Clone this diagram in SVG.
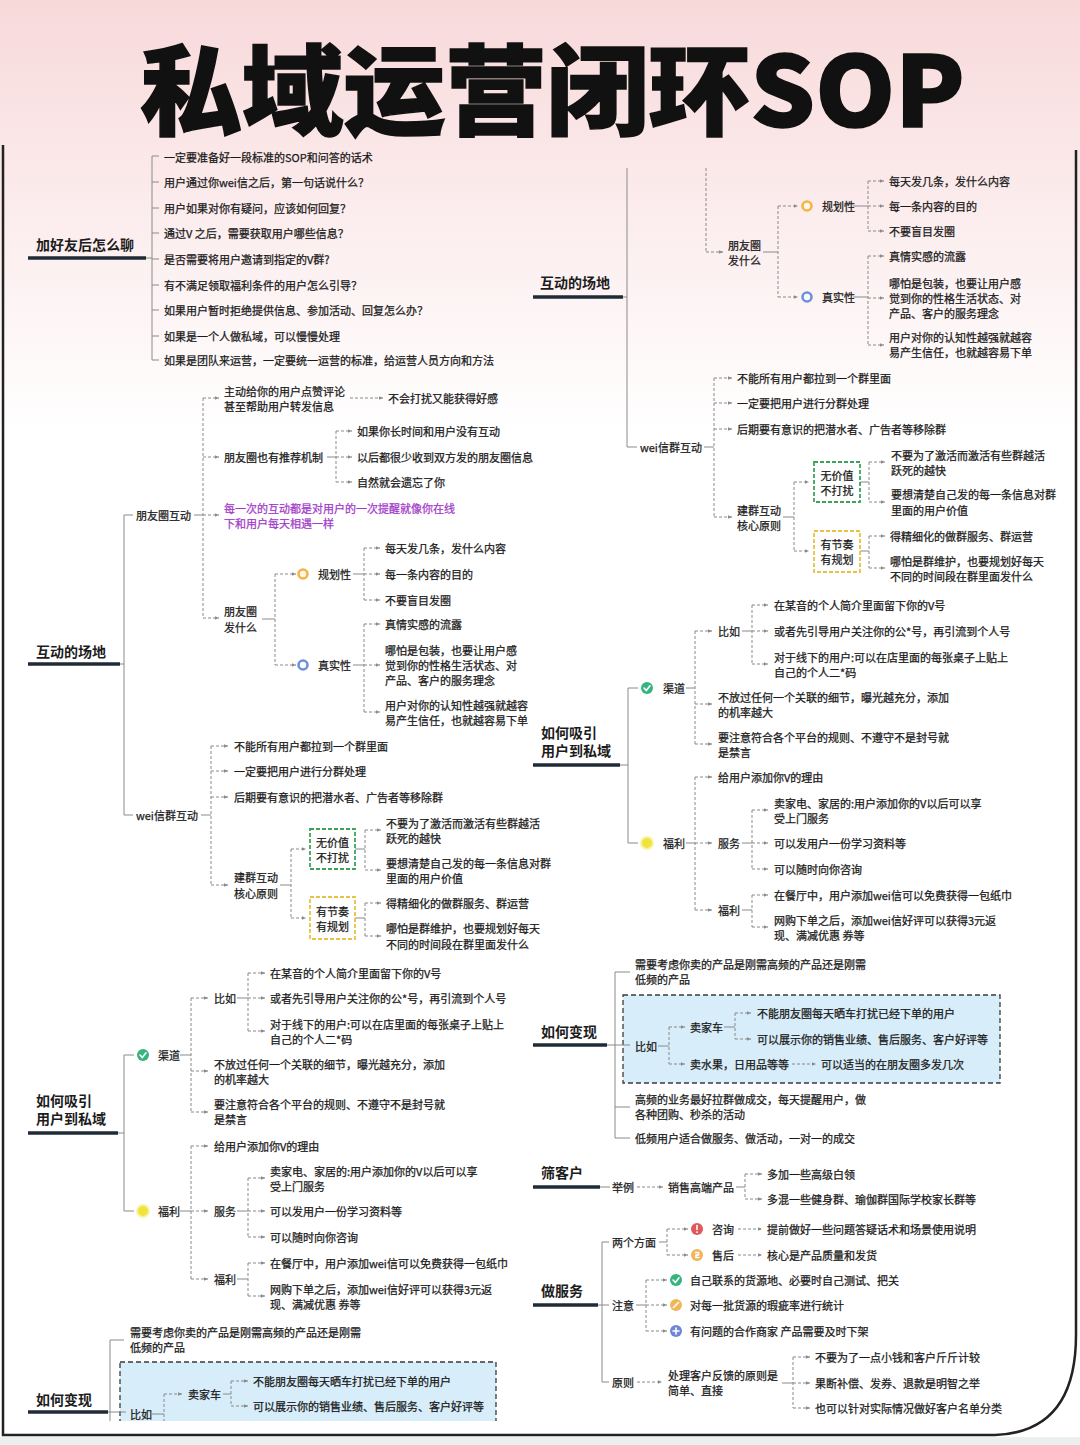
<svg xmlns="http://www.w3.org/2000/svg" width="1080" height="1445" viewBox="0 0 1080 1445">
<defs>
<linearGradient id="bg" x1="0" y1="0" x2="0" y2="1">
<stop offset="0" stop-color="#f8d9da"/>
<stop offset="0.12" stop-color="#fbe9ea"/>
<stop offset="0.3" stop-color="#ffffff"/>
<stop offset="1" stop-color="#ffffff"/>
</linearGradient>
<marker id="ah" viewBox="0 0 6 6" refX="6" refY="3" markerWidth="4" markerHeight="4" orient="auto" markerUnits="userSpaceOnUse"><path d="M0,0.5L6,3L0,5.5Z" fill="#8a8a8a"/></marker>
<clipPath id="clipL"><rect x="0" y="0" width="1080" height="1421"/></clipPath>
<style>
.t{font-family:"Noto Sans CJK SC","Noto Sans",sans-serif;font-size:11px;fill:#1a1a1a;stroke:#1a1a1a;stroke-width:0.25;dominant-baseline:central}
.h{font-family:"Noto Sans CJK SC","Noto Sans",sans-serif;font-size:14px;font-weight:bold;fill:#1c1c1c;dominant-baseline:central}
.p{fill:#a23bc9;stroke:#a23bc9}
.m{text-anchor:middle}
.c{stroke:#8a8a8a;stroke-width:1;fill:none}
.d{stroke:#8a8a8a;stroke-width:1;fill:none;stroke-dasharray:3 2}
.a{marker-end:url(#ah)}
.ul{stroke:#1f2b36;stroke-width:3.5;fill:none}
.gb{fill:#ffffff;stroke:#3da35c;stroke-width:1.8;stroke-dasharray:4 2}
.yb{fill:#ffffff;stroke:#e8c244;stroke-width:1.8;stroke-dasharray:4 2}
.bb{fill:#d7edf9;stroke:#3a3a3a;stroke-width:1.3;stroke-dasharray:5 3}
.ro{fill:#fff7e6;stroke:#f2b546;stroke-width:2.6}
.rb{fill:#ffffff;stroke:#6e90dc;stroke-width:2.6}
.wl{stroke:#fff;stroke-width:1.6;fill:none;stroke-linecap:round}
</style>
</defs>
<rect x="0" y="0" width="1080" height="1445" fill="url(#bg)"/>
<rect x="0" y="1437" width="1080" height="8" fill="#eceff0"/>

<g id="frame">
<path d="M3,145V1435H995Q1076,1432 1076,1335V150" fill="none" stroke="#222" stroke-width="2.5"/>
</g>

<g id="title">
<text x="140" y="127" font-family="'Noto Sans CJK SC','Noto Sans',sans-serif" font-size="98" font-weight="900" fill="#111" stroke="#111" stroke-width="1.5" textLength="825" lengthAdjust="spacingAndGlyphs">私域运营闭环SOP</text>
</g>

<g id="boxes">
<rect class="bb" x="623" y="995" width="377" height="88"/>
<rect class="bb" x="120" y="1362" width="376" height="75" clip-path="url(#clipL)"/>
</g>

<g id="connectors">
<path class="c" d="M146,258H152M152,156V360M152,156H159M152,182H159M152,208H159M152,233H159M152,259H159M152,285H159M152,310H159M152,336H159M152,360H159"/>
<path class="c" d="M120,664H124M124,515V815M124,515H133M124,815H133"/>
<path class="c" d="M194,515H203"/>
<path class="d" d="M203,398V618"/>
<path class="d a" d="M203,398H219"/><path class="d a" d="M203,457H219"/><path class="d a" d="M203,515H219"/><path class="d a" d="M203,618H219"/>
<path class="d a" d="M350,398H383"/>
<path class="c" d="M327,457H336"/><path class="d" d="M336,431V482"/>
<path class="d a" d="M336,431H352"/><path class="d a" d="M336,457H352"/><path class="d a" d="M336,482H352"/>
<path class="c" d="M262,619H275"/><path class="d" d="M275,574V665"/>
<path class="d a" d="M275,574H296"/><path class="d a" d="M275,665H296"/>
<path class="c" d="M353,574H364"/><path class="d" d="M364,548V600"/>
<path class="d a" d="M364,548H380"/><path class="d a" d="M364,574H380"/><path class="d a" d="M364,600H380"/>
<path class="c" d="M353,665H364"/><path class="d" d="M364,624V712"/>
<path class="d a" d="M364,624H380"/><path class="d a" d="M364,665H380"/><path class="d a" d="M364,712H380"/>
<path class="c" d="M201,815H211"/><path class="d" d="M211,746V885"/>
<path class="d a" d="M211,746H228"/><path class="d a" d="M211,771H228"/><path class="d a" d="M211,797H228"/><path class="d a" d="M211,885H228"/>
<path class="c" d="M280,885H291"/><path class="d" d="M291,849V918"/>
<path class="d a" d="M291,849H306"/><path class="d a" d="M291,918H306"/>
<path class="c" d="M355,849H365"/><path class="d" d="M365,830V870"/>
<path class="d a" d="M365,830H381"/><path class="d a" d="M365,870H381"/>
<path class="c" d="M355,918H365"/><path class="d" d="M365,903V936"/>
<path class="d a" d="M365,903H381"/><path class="d a" d="M365,936H381"/>

<path class="c" d="M118,1133H124M124,1055V1211M124,1055H134M124,1211H134"/>
<path class="c" d="M180,1055H191"/><path class="d" d="M191,998V1112"/>
<path class="d a" d="M191,998H208"/><path class="d a" d="M191,1071H208"/><path class="d a" d="M191,1112H208"/>
<path class="c" d="M237,998H248"/><path class="d" d="M248,973V1031"/>
<path class="d a" d="M248,973H265"/><path class="d a" d="M248,998H265"/><path class="d a" d="M248,1031H265"/>
<path class="c" d="M180,1211H191"/><path class="d" d="M191,1146V1279"/>
<path class="d a" d="M191,1146H208"/><path class="d a" d="M191,1211H208"/><path class="d a" d="M191,1279H208"/>
<path class="c" d="M237,1211H248"/><path class="d" d="M248,1178V1237"/>
<path class="d a" d="M248,1178H265"/><path class="d a" d="M248,1211H265"/><path class="d a" d="M248,1237H265"/>
<path class="c" d="M237,1279H248"/><path class="d" d="M248,1263V1296"/>
<path class="d a" d="M248,1263H265"/><path class="d a" d="M248,1296H265"/>

<g clip-path="url(#clipL)">
<path class="c" d="M108,1412H126M110,1340V1430M110,1340H124"/>
<path class="c" d="M152,1414H164"/><path class="d" d="M164,1394V1430"/>
<path class="d a" d="M164,1394H182"/>
<path class="c" d="M223,1394H231"/><path class="d" d="M231,1381V1406"/>
<path class="d a" d="M231,1381H248"/><path class="d a" d="M231,1406H248"/>
</g>

<path class="c" d="M623,297H627M627,168V447M627,447H637"/>
<path class="d" d="M706,168V252"/><path class="d a" d="M706,252H723"/>
<path class="c" d="M763,252H778"/><path class="d" d="M778,206V297"/>
<path class="d a" d="M778,206H798"/><path class="d a" d="M778,297H798"/>
<path class="c" d="M853,206H868"/><path class="d" d="M868,181V231"/>
<path class="d a" d="M868,181H884"/><path class="d a" d="M868,206H884"/><path class="d a" d="M868,231H884"/>
<path class="c" d="M853,297H868"/><path class="d" d="M868,256V345"/>
<path class="d a" d="M868,256H884"/><path class="d a" d="M868,298H884"/><path class="d a" d="M868,345H884"/>
<path class="c" d="M704,447H714"/><path class="d" d="M714,378V517"/>
<path class="d a" d="M714,378H732"/><path class="d a" d="M714,403H732"/><path class="d a" d="M714,429H732"/><path class="d a" d="M714,517H732"/>
<path class="c" d="M783,517H794"/><path class="d" d="M794,482V551"/>
<path class="d a" d="M794,482H809"/><path class="d a" d="M794,551H809"/>
<path class="c" d="M860,482H869"/><path class="d" d="M869,462V502"/>
<path class="d a" d="M869,462H885"/><path class="d a" d="M869,502H885"/>
<path class="c" d="M860,551H869"/><path class="d" d="M869,536V568"/>
<path class="d a" d="M869,536H885"/><path class="d a" d="M869,568H885"/>

<path class="c" d="M620,765H628M628,688V843M628,688H638M628,843H638"/>
<path class="c" d="M686,688H695"/><path class="d" d="M695,631V744"/>
<path class="d a" d="M695,631H712"/><path class="d a" d="M695,704H712"/><path class="d a" d="M695,744H712"/>
<path class="c" d="M742,631H752"/><path class="d" d="M752,605V664"/>
<path class="d a" d="M752,605H768"/><path class="d a" d="M752,631H768"/><path class="d a" d="M752,664H768"/>
<path class="c" d="M686,843H695"/><path class="d" d="M695,777V910"/>
<path class="d a" d="M695,777H712"/><path class="d a" d="M695,843H712"/><path class="d a" d="M695,910H712"/>
<path class="c" d="M742,843H752"/><path class="d" d="M752,810V869"/>
<path class="d a" d="M752,810H768"/><path class="d a" d="M752,843H768"/><path class="d a" d="M752,869H768"/>
<path class="c" d="M742,910H752"/><path class="d" d="M752,895V927"/>
<path class="d a" d="M752,895H768"/><path class="d a" d="M752,927H768"/>

<path class="c" d="M607,1045H630M615,972V1138M615,972H630M615,1107H630M615,1138H630"/>
<path class="c" d="M658,1046H669"/><path class="d" d="M669,1027V1064"/>
<path class="d a" d="M669,1027H685"/><path class="d a" d="M669,1064H685"/>
<path class="c" d="M724,1027H735"/><path class="d" d="M735,1013V1039"/>
<path class="d a" d="M735,1013H751"/><path class="d a" d="M735,1039H751"/>
<path class="d a" d="M792,1064H816"/>

<path class="c" d="M600,1187H610"/>
<path class="d a" d="M637,1187H663"/>
<path class="c" d="M736,1187H745"/><path class="d" d="M745,1174V1199"/>
<path class="d a" d="M745,1174H762"/><path class="d a" d="M745,1199H762"/>

<path class="c" d="M598,1305H609M602,1242V1382M602,1242H609M602,1382H609"/>
<path class="c" d="M659,1242H667"/><path class="d" d="M667,1229V1255"/>
<path class="d a" d="M667,1229H688"/><path class="d a" d="M667,1255H688"/>
<path class="d a" d="M738,1229H762"/><path class="d a" d="M738,1255H762"/>
<path class="c" d="M636,1305H646"/><path class="d" d="M646,1280V1331"/>
<path class="d a" d="M646,1280H667"/><path class="d a" d="M646,1305H667"/><path class="d a" d="M646,1331H667"/>
<path class="d a" d="M637,1382H662"/>
<path class="c" d="M782,1383H793"/><path class="d" d="M793,1357V1408"/>
<path class="d a" d="M793,1357H810"/><path class="d a" d="M793,1383H810"/><path class="d a" d="M793,1408H810"/>
</g>

<!-- LEFT: 加好友后怎么聊 -->
<g id="L-h1"><text class="h" x="36" y="244">加好友后怎么聊</text><path class="ul" d="M28,258H146"/></g>
<g id="L-a1"><text class="t" x="164" y="157">一定要准备好一段标准的SOP和问答的话术</text></g>
<g id="L-a2"><text class="t" x="164" y="182">用户通过你wei信之后，第一句话说什么？</text></g>
<g id="L-a3"><text class="t" x="164" y="208">用户如果对你有疑问，应该如何回复？</text></g>
<g id="L-a4"><text class="t" x="164" y="233">通过V 之后，需要获取用户哪些信息？</text></g>
<g id="L-a5"><text class="t" x="164" y="259">是否需要将用户邀请到指定的V群?</text></g>
<g id="L-a6"><text class="t" x="164" y="285">有不满足领取福利条件的用户怎么引导？</text></g>
<g id="L-a7"><text class="t" x="164" y="310">如果用户暂时拒绝提供信息、参加活动、回复怎么办？</text></g>
<g id="L-a8"><text class="t" x="164" y="336">如果是一个人做私域，可以慢慢处理</text></g>
<g id="L-a9"><text class="t" x="164" y="360">如果是团队来运营，一定要统一运营的标准，给运营人员方向和方法</text></g>

<!-- LEFT: 互动的场地 -->
<g id="L-h2"><text class="h" x="36" y="651">互动的场地</text><path class="ul" d="M28,664H120"/></g>
<g id="L-b1"><text class="t" x="136" y="515">朋友圈互动</text></g>
<g id="L-b2"><text class="t" x="224" y="391">主动给你的用户点赞评论<tspan x="224" dy="15">甚至帮助用户转发信息</tspan></text></g>
<g id="L-b3"><text class="t" x="388" y="398">不会打扰又能获得好感</text></g>
<g id="L-b4"><text class="t" x="224" y="457">朋友圈也有推荐机制</text></g>
<g id="L-b5"><text class="t" x="357" y="431">如果你长时间和用户没有互动</text></g>
<g id="L-b6"><text class="t" x="357" y="457">以后都很少收到双方发的朋友圈信息</text></g>
<g id="L-b7"><text class="t" x="357" y="482">自然就会遗忘了你</text></g>
<g id="L-b8"><text class="t p" x="224" y="508">每一次的互动都是对用户的一次提醒就像你在线<tspan x="224" dy="15">下和用户每天相遇一样</tspan></text></g>
<g id="L-b9"><text class="t" x="224" y="611">朋友圈<tspan x="224" dy="16">发什么</tspan></text></g>
<g id="L-b10"><circle class="ro" cx="303" cy="574" r="4.5"/><text class="t" x="318" y="574">规划性</text></g>
<g id="L-b11"><text class="t" x="385" y="548">每天发几条，发什么内容</text></g>
<g id="L-b12"><text class="t" x="385" y="574">每一条内容的目的</text></g>
<g id="L-b13"><text class="t" x="385" y="600">不要盲目发圈</text></g>
<g id="L-b14"><circle class="rb" cx="303" cy="665" r="4.5"/><text class="t" x="318" y="665">真实性</text></g>
<g id="L-b15"><text class="t" x="385" y="624">真情实感的流露</text></g>
<g id="L-b16"><text class="t" x="385" y="650">哪怕是包装，也要让用户感<tspan x="385" dy="15">觉到你的性格生活状态、对</tspan><tspan x="385" dy="15">产品、客户的服务理念</tspan></text></g>
<g id="L-b17"><text class="t" x="385" y="705">用户对你的认知性越强就越容<tspan x="385" dy="15">易产生信任，也就越容易下单</tspan></text></g>
<g id="L-c1"><text class="t" x="136" y="815">wei信群互动</text></g>
<g id="L-c2"><text class="t" x="234" y="746">不能所有用户都拉到一个群里面</text></g>
<g id="L-c3"><text class="t" x="234" y="771">一定要把用户进行分群处理</text></g>
<g id="L-c4"><text class="t" x="234" y="797">后期要有意识的把潜水者、广告者等移除群</text></g>
<g id="L-c5"><text class="t" x="234" y="877">建群互动<tspan x="234" dy="16">核心原则</tspan></text></g>
<g id="L-c6"><rect class="gb" x="310" y="829" width="45" height="40"/><text class="t m" x="332.5" y="842">无价值<tspan x="332.5" dy="15">不打扰</tspan></text></g>
<g id="L-c7"><text class="t" x="386" y="823">不要为了激活而激活有些群越活<tspan x="386" dy="15">跃死的越快</tspan></text></g>
<g id="L-c8"><text class="t" x="386" y="863">要想清楚自己发的每一条信息对群<tspan x="386" dy="15">里面的用户价值</tspan></text></g>
<g id="L-c9"><rect class="yb" x="310" y="897" width="45" height="42"/><text class="t m" x="332.5" y="911">有节奏<tspan x="332.5" dy="15">有规划</tspan></text></g>
<g id="L-c10"><text class="t" x="386" y="903">得精细化的做群服务、群运营</text></g>
<g id="L-c11"><text class="t" x="386" y="928">哪怕是群维护，也要规划好每天<tspan x="386" dy="16">不同的时间段在群里面发什么</tspan></text></g>

<!-- LEFT: 如何吸引用户到私域 -->
<g id="L-h3"><text class="h" x="36" y="1100">如何吸引<tspan x="36" dy="18">用户到私域</tspan></text><path class="ul" d="M28,1133H118"/></g>
<g id="L-d1"><circle cx="143" cy="1055" r="6" fill="#36b37e"/><path class="wl" d="M140,1055L142.3,1057.5L146,1052.8"/><text class="t" x="158" y="1055">渠道</text></g>
<g id="L-d2"><text class="t" x="214" y="998">比如</text></g>
<g id="L-d3"><text class="t" x="270" y="973">在某音的个人简介里面留下你的V号</text></g>
<g id="L-d4"><text class="t" x="270" y="998">或者先引导用户关注你的公*号，再引流到个人号</text></g>
<g id="L-d5"><text class="t" x="270" y="1024">对于线下的用户:可以在店里面的每张桌子上贴上<tspan x="270" dy="15">自己的个人二*码</tspan></text></g>
<g id="L-d6"><text class="t" x="214" y="1064">不放过任何一个关联的细节，曝光越充分，添加<tspan x="214" dy="15">的机率越大</tspan></text></g>
<g id="L-d7"><text class="t" x="214" y="1104">要注意符合各个平台的规则、不遵守不是封号就<tspan x="214" dy="15">是禁言</tspan></text></g>
<g id="L-d8"><circle cx="143" cy="1211" r="6" fill="#efe33c" stroke="#f8f3a8" stroke-width="2"/><text class="t" x="158" y="1211">福利</text></g>
<g id="L-d9"><text class="t" x="214" y="1146">给用户添加你V的理由</text></g>
<g id="L-d10"><text class="t" x="214" y="1211">服务</text></g>
<g id="L-d11"><text class="t" x="270" y="1171">卖家电、家居的:用户添加你的V以后可以享<tspan x="270" dy="15">受上门服务</tspan></text></g>
<g id="L-d12"><text class="t" x="270" y="1211">可以发用户一份学习资料等</text></g>
<g id="L-d13"><text class="t" x="270" y="1237">可以随时向你咨询</text></g>
<g id="L-d14"><text class="t" x="214" y="1279">福利</text></g>
<g id="L-d15"><text class="t" x="270" y="1263">在餐厅中，用户添加wei信可以免费获得一包纸巾</text></g>
<g id="L-d16"><text class="t" x="270" y="1289">网购下单之后，添加wei信好评可以获得3元返<tspan x="270" dy="15">现、满减优惠 券等</tspan></text></g>

<!-- LEFT: 如何变现 -->
<g id="L-h4"><text class="h" x="36" y="1399">如何变现</text><path class="ul" d="M28,1412H108"/></g>
<g id="L-e1"><text class="t" x="130" y="1332">需要考虑你卖的产品是刚需高频的产品还是刚需<tspan x="130" dy="15">低频的产品</tspan></text></g>
<g id="L-e2" clip-path="url(#clipL)"><text class="t" x="130" y="1414">比如</text></g>
<g id="L-e3"><text class="t" x="188" y="1394">卖家车</text></g>
<g id="L-e4"><text class="t" x="253" y="1381">不能朋友圈每天晒车打扰已经下单的用户</text></g>
<g id="L-e5" clip-path="url(#clipL)"><text class="t" x="253" y="1406">可以展示你的销售业绩、售后服务、客户好评等</text></g>

<!-- RIGHT: 互动的场地 -->
<g id="R-h1"><text class="h" x="540" y="282">互动的场地</text><path class="ul" d="M533,297H623"/></g>
<g id="R-a1"><text class="t" x="728" y="245">朋友圈<tspan x="728" dy="15">发什么</tspan></text></g>
<g id="R-a2"><circle class="ro" cx="807" cy="206" r="4.5"/><text class="t" x="822" y="206">规划性</text></g>
<g id="R-a3"><text class="t" x="889" y="181">每天发几条，发什么内容</text></g>
<g id="R-a4"><text class="t" x="889" y="206">每一条内容的目的</text></g>
<g id="R-a5"><text class="t" x="889" y="231">不要盲目发圈</text></g>
<g id="R-a6"><circle class="rb" cx="807" cy="297" r="4.5"/><text class="t" x="822" y="297">真实性</text></g>
<g id="R-a7"><text class="t" x="889" y="256">真情实感的流露</text></g>
<g id="R-a8"><text class="t" x="889" y="283">哪怕是包装，也要让用户感<tspan x="889" dy="15">觉到你的性格生活状态、对</tspan><tspan x="889" dy="15">产品、客户的服务理念</tspan></text></g>
<g id="R-a9"><text class="t" x="889" y="337">用户对你的认知性越强就越容<tspan x="889" dy="15">易产生信任，也就越容易下单</tspan></text></g>
<g id="R-b1"><text class="t" x="640" y="447">wei信群互动</text></g>
<g id="R-b2"><text class="t" x="737" y="378">不能所有用户都拉到一个群里面</text></g>
<g id="R-b3"><text class="t" x="737" y="403">一定要把用户进行分群处理</text></g>
<g id="R-b4"><text class="t" x="737" y="429">后期要有意识的把潜水者、广告者等移除群</text></g>
<g id="R-b5"><text class="t" x="737" y="510">建群互动<tspan x="737" dy="15">核心原则</tspan></text></g>
<g id="R-b6"><rect class="gb" x="814" y="462" width="46" height="40"/><text class="t m" x="837" y="475">无价值<tspan x="837" dy="15">不打扰</tspan></text></g>
<g id="R-b7"><text class="t" x="891" y="455">不要为了激活而激活有些群越活<tspan x="891" dy="15">跃死的越快</tspan></text></g>
<g id="R-b8"><text class="t" x="891" y="494">要想清楚自己发的每一条信息对群<tspan x="891" dy="16">里面的用户价值</tspan></text></g>
<g id="R-b9"><rect class="yb" x="814" y="531" width="46" height="41"/><text class="t m" x="837" y="544">有节奏<tspan x="837" dy="15">有规划</tspan></text></g>
<g id="R-b10"><text class="t" x="890" y="536">得精细化的做群服务、群运营</text></g>
<g id="R-b11"><text class="t" x="890" y="561">哪怕是群维护，也要规划好每天<tspan x="890" dy="15">不同的时间段在群里面发什么</tspan></text></g>

<!-- RIGHT: 如何吸引用户到私域 -->
<g id="R-h2"><text class="h" x="541" y="732">如何吸引<tspan x="541" dy="18">用户到私域</tspan></text><path class="ul" d="M533,765H620"/></g>
<g id="R-c1"><circle cx="647" cy="688" r="6" fill="#36b37e"/><path class="wl" d="M644,688L646.3,690.5L650,685.8"/><text class="t" x="663" y="688">渠道</text></g>
<g id="R-c2"><text class="t" x="718" y="631">比如</text></g>
<g id="R-c3"><text class="t" x="774" y="605">在某音的个人简介里面留下你的V号</text></g>
<g id="R-c4"><text class="t" x="774" y="631">或者先引导用户关注你的公*号，再引流到个人号</text></g>
<g id="R-c5"><text class="t" x="774" y="657">对于线下的用户:可以在店里面的每张桌子上贴上<tspan x="774" dy="15">自己的个人二*码</tspan></text></g>
<g id="R-c6"><text class="t" x="718" y="697">不放过任何一个关联的细节，曝光越充分，添加<tspan x="718" dy="15">的机率越大</tspan></text></g>
<g id="R-c7"><text class="t" x="718" y="737">要注意符合各个平台的规则、不遵守不是封号就<tspan x="718" dy="15">是禁言</tspan></text></g>
<g id="R-c8"><circle cx="647" cy="843" r="6" fill="#efe33c" stroke="#f8f3a8" stroke-width="2"/><text class="t" x="663" y="843">福利</text></g>
<g id="R-c9"><text class="t" x="718" y="777">给用户添加你V的理由</text></g>
<g id="R-c10"><text class="t" x="718" y="843">服务</text></g>
<g id="R-c11"><text class="t" x="774" y="803">卖家电、家居的:用户添加你的V以后可以享<tspan x="774" dy="15">受上门服务</tspan></text></g>
<g id="R-c12"><text class="t" x="774" y="843">可以发用户一份学习资料等</text></g>
<g id="R-c13"><text class="t" x="774" y="869">可以随时向你咨询</text></g>
<g id="R-c14"><text class="t" x="718" y="910">福利</text></g>
<g id="R-c15"><text class="t" x="774" y="895">在餐厅中，用户添加wei信可以免费获得一包纸巾</text></g>
<g id="R-c16"><text class="t" x="774" y="920">网购下单之后，添加wei信好评可以获得3元返<tspan x="774" dy="15">现、满减优惠 券等</tspan></text></g>

<!-- RIGHT: 如何变现 -->
<g id="R-h3"><text class="h" x="541" y="1031">如何变现</text><path class="ul" d="M533,1045H607"/></g>
<g id="R-d1"><text class="t" x="635" y="964">需要考虑你卖的产品是刚需高频的产品还是刚需<tspan x="635" dy="15">低频的产品</tspan></text></g>
<g id="R-d2"><text class="t" x="635" y="1046">比如</text></g>
<g id="R-d3"><text class="t" x="690" y="1027">卖家车</text></g>
<g id="R-d4"><text class="t" x="757" y="1013">不能朋友圈每天晒车打扰已经下单的用户</text></g>
<g id="R-d5"><text class="t" x="757" y="1039">可以展示你的销售业绩、售后服务、客户好评等</text></g>
<g id="R-d6"><text class="t" x="690" y="1064">卖水果，日用品等等</text></g>
<g id="R-d7"><text class="t" x="821" y="1064">可以适当的在朋友圈多发几次</text></g>
<g id="R-d8"><text class="t" x="635" y="1099">高频的业务最好拉群做成交，每天提醒用户，做<tspan x="635" dy="15">各种团购、秒杀的活动</tspan></text></g>
<g id="R-d9"><text class="t" x="635" y="1138">低频用户适合做服务、做活动，一对一的成交</text></g>

<!-- RIGHT: 筛客户 -->
<g id="R-h4"><text class="h" x="541" y="1172">筛客户</text><path class="ul" d="M533,1187H600"/></g>
<g id="R-e1"><text class="t" x="612" y="1187">举例</text></g>
<g id="R-e2"><text class="t" x="668" y="1187">销售高端产品</text></g>
<g id="R-e3"><text class="t" x="767" y="1174">多加一些高级白领</text></g>
<g id="R-e4"><text class="t" x="767" y="1199">多混一些健身群、瑜伽群国际学校家长群等</text></g>

<!-- RIGHT: 做服务 -->
<g id="R-h5"><text class="h" x="541" y="1290">做服务</text><path class="ul" d="M533,1305H598"/></g>
<g id="R-f1"><text class="t" x="612" y="1242">两个方面</text></g>
<g id="R-f2"><circle cx="697" cy="1229" r="6" fill="#e05858"/><path class="wl" d="M697,1225.5V1229.5"/><circle cx="697" cy="1232.2" r="0.9" fill="#fff"/><text class="t" x="712" y="1229">咨询</text></g>
<g id="R-f3"><text class="t" x="767" y="1229">提前做好一些问题答疑话术和场景使用说明</text></g>
<g id="R-f4"><circle cx="697" cy="1255" r="6" fill="#f2b35a"/><path class="wl" d="M695.5,1252.5H698.5V1255H696V1257.5H699" stroke-width="1.1"/><text class="t" x="712" y="1255">售后</text></g>
<g id="R-f5"><text class="t" x="767" y="1255">核心是产品质量和发货</text></g>
<g id="R-f6"><text class="t" x="612" y="1305">注意</text></g>
<g id="R-f7"><circle cx="676" cy="1280" r="6" fill="#36b37e"/><path class="wl" d="M673,1280L675.3,1282.5L679,1277.8"/><text class="t" x="690" y="1280">自己联系的货源地、必要时自己测试、把关</text></g>
<g id="R-f8"><circle cx="676" cy="1305" r="6" fill="#efb75a"/><path class="wl" d="M673.5,1307.5L678.5,1302.5"/><text class="t" x="690" y="1305">对每一批货源的瑕疵率进行统计</text></g>
<g id="R-f9"><circle cx="676" cy="1331" r="6" fill="#6f87d6"/><path class="wl" d="M673,1331H679M676,1328V1334"/><text class="t" x="690" y="1331">有问题的合作商家 产品需要及时下架</text></g>
<g id="R-f10"><text class="t" x="612" y="1382">原则</text></g>
<g id="R-f11"><text class="t" x="668" y="1375">处理客户反馈的原则是<tspan x="668" dy="15">简单、直接</tspan></text></g>
<g id="R-f12"><text class="t" x="815" y="1357">不要为了一点小钱和客户斤斤计较</text></g>
<g id="R-f13"><text class="t" x="815" y="1383">果断补偿、发券、退款是明智之举</text></g>
<g id="R-f14"><text class="t" x="815" y="1408">也可以针对实际情况做好客户名单分类</text></g>
</svg>
